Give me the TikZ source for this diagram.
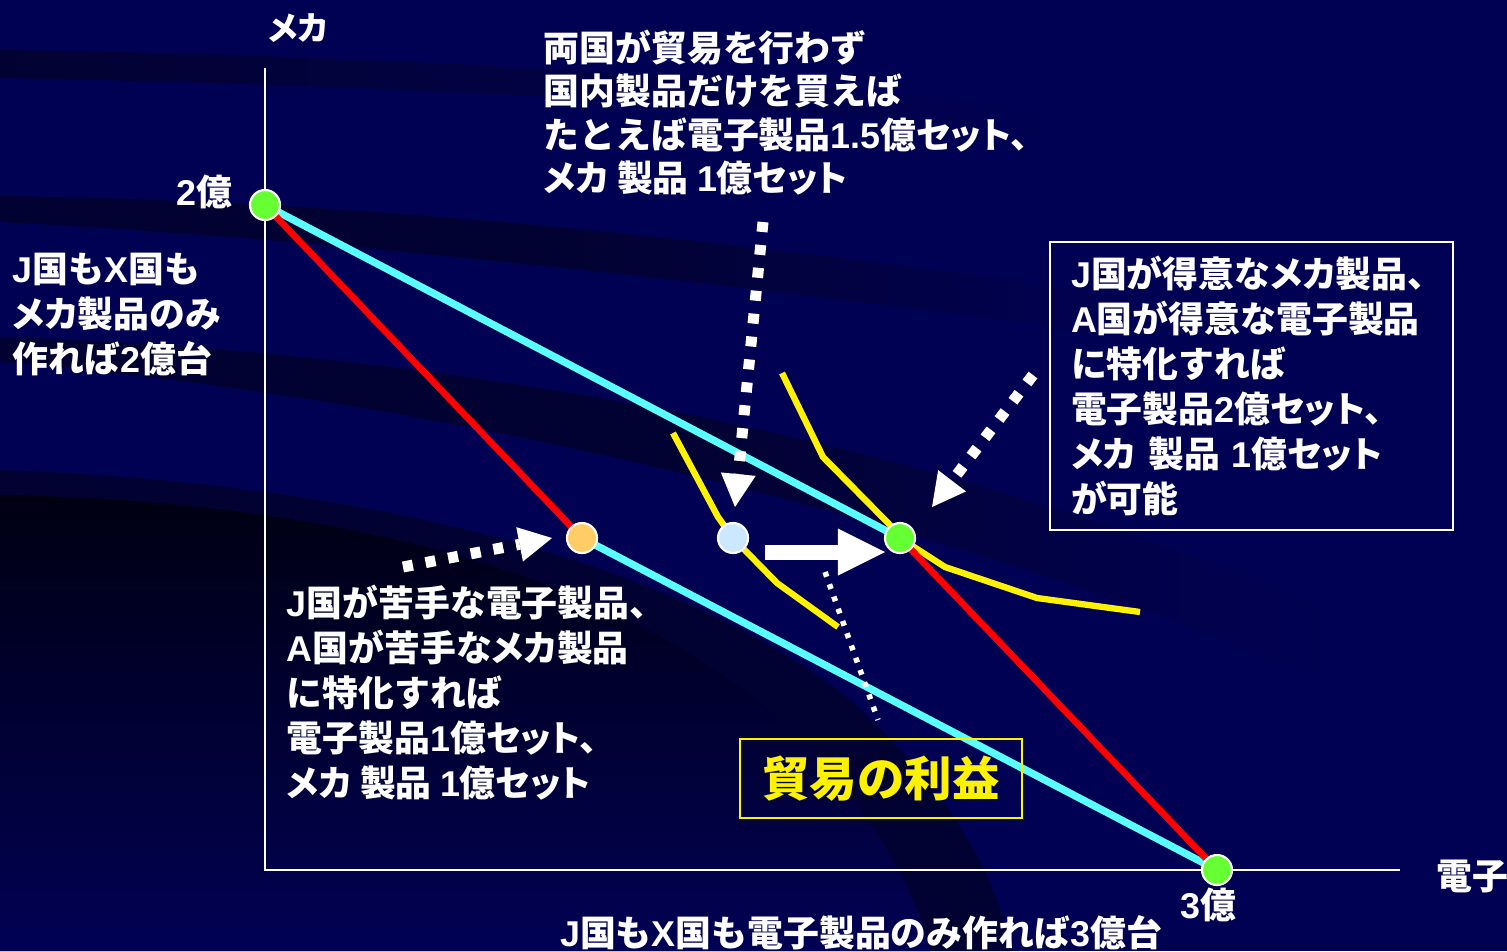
\documentclass[tikz,border=0pt]{standalone}
\usepackage{fontspec}
\setmainfont{Noto Sans CJK JP}
\newfontfamily\arf{Liberation Sans}
\usetikzlibrary{arrows.meta,calc}
\definecolor{navy}{RGB}{1,1,84}
\definecolor{bandc}{RGB}{2,2,50}
\definecolor{deepc}{RGB}{0,0,18}
\definecolor{cyanl}{RGB}{90,255,255}
\definecolor{ptgreen}{RGB}{102,255,51}
\definecolor{ptorange}{RGB}{255,204,102}
\definecolor{ptblue}{RGB}{204,232,255}
\newcommand\la[1]{{\arf #1}}
\newcommand\kp[1]{{\addfontfeature{RawFeature=+palt}#1}}
\newcommand\jpfont{\fontsize{10.2}{12.8}\selectfont\bfseries}
\tikzset{
  txt/.style={text=white, font=\jpfont, inner sep=0pt, align=left, anchor=north west},
  lbl/.style={text=white, font=\jpfont, inner sep=0pt},
  axis/.style={draw=white, line width=0.6pt},
  cyanline/.style={draw=cyanl, line width=2.1pt},
  redline/.style={draw=red, line width=1.9pt},
  icurve/.style={draw=yellow, line width=1.8pt},
  pt/.style={circle, draw=white, line width=0.6pt, minimum size=0.3cm, inner sep=0pt},
  dotarrow/.style={draw=white, line width=0.11cm, dash pattern=on 0.10cm off 0.13cm,
     -{Triangle[length=0.33cm,width=0.35cm,line width=0pt]}},
  thindot/.style={draw=white, line width=0.055cm, dash pattern=on 0.05cm off 0.08cm},
  blockarr/.style={draw=white, line width=0.15cm, -{Triangle[length=0.47cm,width=0.47cm,line width=0pt]}}
}
\begin{document}
\begin{tikzpicture}[x=0.01cm,y=-0.01cm]
\useasboundingbox (0,0) rectangle (1507,951);
% background
\fill[navy] (0,0) rectangle (1507,951);
\shade[left color=bandc, right color=navy]
  (0,50) .. controls (400,55) and (800,80) .. (1100,118) -- (1100,140)
  .. controls (800,105) and (400,85) .. (0,78) -- cycle;
\shade[left color=bandc, right color=navy, middle color=bandc]
  (0,196) .. controls (350,200) and (750,240) .. (1150,300) -- (1150,340)
  .. controls (750,285) and (350,240) .. (0,222) -- cycle;
\shade[left color=bandc, right color=navy, middle color=bandc]
  (0,337) .. controls (400,350) and (900,420) .. (1350,620) -- (1350,690)
  .. controls (900,500) and (400,395) .. (0,362) -- cycle;
\fill[bandc]
  (0,470) .. controls (300,480) and (650,540) .. (850,700) .. controls (950,790) and (1000,880) .. (1010,951)
  -- (0,951) -- cycle;
\shade[top color=deepc, bottom color=navy]
  (0,495) .. controls (300,500) and (600,560) .. (780,720) .. controls (870,800) and (920,900) .. (930,951)
  -- (0,951) -- cycle;
% axes
\coordinate (O) at (265,870);
\coordinate (ytop) at (265,68);
\coordinate (xend) at (1400,870);
\draw[axis] (ytop) -- (O) -- (xend);
\node[lbl, font=\fontsize{9.4}{11}\selectfont\bfseries] (ylab) at (298,28) {\kp{メカ}};
\node[lbl, anchor=west] (xlab) at (1436,876) {電子};
\node[lbl, anchor=east] (l2) at (233,192) {\la{2}億};
\node[lbl] (l3) at (1208,905) {\la{3}億};
% points
\coordinate (pA) at (265,205);
\coordinate (pB) at (1217,870);
\coordinate (pC) at (900,538);
\coordinate (pD) at (582,538);
\coordinate (pE) at (733,538);
% indifference curves
\draw[icurve] (673,433) -- (718,517) -- (pE) -- (777,583) -- (838,627);
\draw[icurve] (782,373) -- (823,457) -- (890,525) -- (pC) -- (945,567) -- (1037,598) -- (1140,612);
% production lines
\draw[cyanline] (pA) -- (pC);
\draw[cyanline] (pD) -- (pB);
\draw[redline] (pA) -- (pD);
\draw[redline] (pC) -- (pB);
\node[pt, fill=ptgreen] (A) at (pA) {};
\node[pt, fill=ptgreen] (B) at (pB) {};
\node[pt, fill=ptgreen] (C) at (pC) {};
\node[pt, fill=ptorange] (D) at (pD) {};
\node[pt, fill=ptblue] (E) at (pE) {};
% texts
\node[txt] (tl) at (12,252) {\la{J}国も\la{X}国も\\\kp{メカ}製品のみ\\作れば\la{2}億台};
\node[txt, font=\fontsize{10.2}{12.4}\selectfont\bfseries] (tt) at (543,29)
  {両国が貿易を行わず\\国内製品だけを買えば\\たとえば電子製品\la{1.5}億\kp{セット、}\\\kp{メカ} 製品 \la{1}億\kp{セット}};
\node[txt] (tb) at (286,584) {\la{J}国が苦手な電子製品、\\\la{A}国が苦手な\kp{メカ}製品\\に特化すれば\\電子製品\la{1}億\kp{セット、}\\\kp{メカ} 製品 \la{1}億\kp{セット}};
\node[txt, draw=white, line width=0.6pt, inner xsep=0.21cm, inner ysep=0pt, text width=3.61cm,
      minimum height=2.88cm] (tr) at (1049,241)
  {\la{J}国が得意な\kp{メカ}製品、\\\la{A}国が得意な電子製品\\に特化すれば\\電子製品\la{2}億\kp{セット、}\\\kp{メカ} 製品 \la{1}億\kp{セット}\\が可能};
\node[lbl] (bot) at (861,933) {\la{J}国も\la{X}国も電子製品のみ作れば\la{3}億台};
\node[draw=yellow, line width=0.6pt, text=yellow, font=\fontsize{13.5}{15}\selectfont\bfseries,
      minimum width=2.82cm, minimum height=0.79cm, inner sep=0pt] (gain) at (881,778.5) {貿易の利益};
% arrows
\coordinate (s1) at (763,222);
\coordinate (s2) at (1033,375);
\coordinate (s3) at (403,567);
\coordinate (s4) at (825,572);
\coordinate (s5) at (878,720);
\draw[dotarrow] (s1) -- ($(E)+(2,-31)$);
\draw[dotarrow] (s2) -- ($(C)+(32,-31)$);
\draw[dotarrow] (s3) -- ($(D)+(-30,0)$);
\draw[thindot] (s4) -- (s5);
\draw[blockarr] ($(E)+(32,14)$) -- ($(C)+(-15,14)$);
\end{tikzpicture}
\end{document}
